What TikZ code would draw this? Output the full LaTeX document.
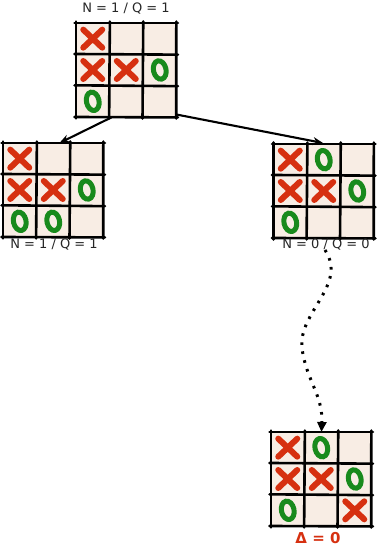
\documentclass[tikz,border=0pt]{standalone}
\usepackage{fontspec}
\setmainfont{DejaVu Sans}
\usetikzlibrary{arrows.meta,calc}
\definecolor{cellcol}{RGB}{248,237,228}
\definecolor{xred}{RGB}{214,48,16}
\definecolor{ogreen}{RGB}{24,138,28}
\tikzset{
  gridline/.style={line width=2.6pt,line cap=round,black},
  xmk/.style={line width=6pt,line cap=round,xred},
  omk/.style={line width=5pt,ogreen},
  boardbox/.style={draw=none,minimum width=100.5pt,minimum height=94pt,inner sep=0pt,anchor=north west},
  lbl/.style={font=\fontsize{13}{14}\selectfont,text=black!85,inner sep=0pt},
  conn/.style={line width=2.1pt,-{Stealth[length=10pt,width=8pt]}},
  dotconn/.style={line width=3pt,dash pattern=on 2.6pt off 6.5pt,-{Triangle[length=10pt,width=9pt]}},
}
\newcommand{\board}[5]{%
 \begin{scope}[shift={(#2,#3)}]
  \fill[cellcol] (0,0) rectangle (100.5,94);
  \foreach \i in {0,1,2,3} {
    \draw[gridline] ({\i*33.5+0.4*sin(\i*70)},-1.5) -- ({\i*33.5-0.5*sin(\i*50)},95.5);
    \draw[gridline] (-1.5,{\i*31.33-0.4*sin(\i*60)}) -- (102,{\i*31.33+0.5*sin(\i*40)});
  }
  \foreach \c/\r in {#4} {
    \draw[xmk] ({(\c-0.5)*33.5-9.5},{(\r-0.5)*31.33-9}) -- ({(\c-0.5)*33.5+9.5},{(\r-0.5)*31.33+9});
    \draw[xmk] ({(\c-0.5)*33.5+9.5},{(\r-0.5)*31.33-9}) -- ({(\c-0.5)*33.5-9.5},{(\r-0.5)*31.33+9});
  }
  \foreach \c/\r in {#5} {
    \draw[omk,rotate around={12:({(\c-0.5)*33.5},{(\r-0.5)*31.33})}] ({(\c-0.5)*33.5},{(\r-0.5)*31.33}) ellipse [x radius=6.3pt,y radius=9.3pt];
  }
  \node[boardbox] (#1) at (0,0) {};
 \end{scope}}
\begin{document}
\begin{tikzpicture}[x=1pt,y=-1pt]
\useasboundingbox (0,0) rectangle (376,548);
\board{top}{76}{23}{1/1,1/2,2/2}{3/2,1/3}
\board{left}{3}{143}{1/1,1/2,2/2}{3/2,1/3,2/3}
\board{right}{273.5}{144}{1/1,1/2,2/2}{2/1,3/2,1/3}
\board{bot}{271}{432}{1/1,1/2,2/2,3/3}{2/1,3/2,1/3}
\node[lbl] (ltop) at (126,9) {N = 1 / Q = 1};
\node[lbl] (lleft) at (54,245) {N = 1 / Q = 1};
\node[lbl] (lright) at (326,245) {N = 0 / Q = 0};
\node[font=\fontsize{15}{16}\selectfont\bfseries,text=xred,inner sep=0pt] (lbot) at (318,538) {Δ = 0};
\draw[conn] ($(top.south)+(-15,0)$) -- ($(left.north)+(6,0)$);
\draw[conn] ($(top.south east)+(-1,-3)$) -- ($(right.north)+(-1,-1)$);
\coordinate (dstart) at (325,250);
\draw[dotconn] (dstart) .. controls (348,285) and (298,312) .. (302,348) .. controls (306,380) and (323,395) .. (bot.north);
\end{tikzpicture}
\end{document}
